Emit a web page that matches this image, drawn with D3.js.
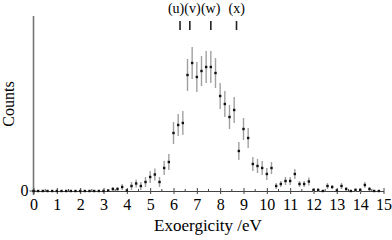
<!DOCTYPE html>
<html>
<head>
<meta charset="utf-8">
<script src="https://cdn.jsdelivr.net/npm/d3@7"></script>
<style>
	body { margin: 0; background: #fff; }
	text { font-family: "Liberation Serif", "DejaVu Serif", serif; fill: #000; }
</style>
</head>
<body>
<svg width="392" height="240"></svg>
<script>
var energy = [0, 0.2, 0.4, 0.6, 0.8, 1.0, 1.2, 1.4, 1.6, 1.8, 2.0, 2.2, 2.4, 2.6, 2.8,
	3.0, 3.2, 3.4, 3.6, 3.8, 4.0, 4.2, 4.4, 4.6, 4.8, 5.0, 5.2, 5.4, 5.6, 5.8,
	6.0, 6.2, 6.4, 6.6, 6.8, 7.0, 7.2, 7.4, 7.6, 7.8, 8.0, 8.2, 8.4, 8.6, 8.8,
	9.0, 9.2, 9.4, 9.6, 9.8, 10.0, 10.2, 10.4, 10.6, 10.8, 11.0, 11.2, 11.4, 11.6, 11.8,
	12.0, 12.2, 12.4, 12.6, 12.8, 13.0, 13.2, 13.4, 13.6, 13.8, 14.0, 14.2, 14.4, 14.6, 14.8];
var counts = [0, 0, 0, 0, 0, 0, 0, 0, 0, 0, 0, 0, 0, 0, 0,
	0, 0.5, 2, 2, 4, 0.5, 5, 7.5, 5, 9, 14, 16.5, 9, 23, 29,
	58, 66, 68, 116, 128, 114, 120, 124, 124, 118, 95, 87, 74, 81, 40,
	62, 53, 27, 25, 23, 17, 23, 5, 7, 10, 10, 17, 7, 7, 9.5,
	1, 1, 0, 5, 4, 0.5, 5, 2, 0, 1, 1, 6, 2, 0, 0];
var errors = [0, 0, 0, 0, 0, 0, 0, 0, 0, 0, 0, 0, 0, 0, 0,
	1, 1, 2, 2, 3, 1, 4, 4, 4, 5, 6, 6, 5, 7, 8,
	11, 11, 12, 16, 16, 15, 15, 16, 16, 15, 13, 13, 12, 13, 9,
	11, 10, 7, 7, 7, 6, 6, 3, 3, 4, 4, 5, 3, 3, 4,
	2, 2, 1, 3, 2, 2, 3, 2, 1, 2, 2, 3, 2, 1, 1];

var markerLabels = ["(u)", "(v)", "(w)", "(x)"];
var markerEnergy = [6.28, 6.7, 7.6, 8.7];
var markerLabelEnergy = [6.11, 6.81, 7.59, 8.71];

var majorTicks = d3.range(0, 16);
var minorTicks = d3.range(0.5, 15, 1);

var svg = d3.select("svg");

var x = d3.scaleLinear().domain([0, 15]).range([33.5, 383.5]);
var y = d3.scaleLinear().domain([0, 175]).range([191, 16]);

// y axis line
svg.append("line")
	.attr("x1", x(0)).attr("x2", x(0))
	.attr("y1", y(175)).attr("y2", 195)
	.attr("stroke", "#777").attr("stroke-width", 1.6);

// x axis
var xAxis = svg.append("g")
	.attr("transform", "translate(0," + y(0) + ")")
	.call(d3.axisBottom(x).tickValues(majorTicks).tickSize(3).tickSizeOuter(0).tickFormat(d3.format("d")));
xAxis.select(".domain").attr("stroke", "#444");
xAxis.selectAll(".tick line").attr("y1", -3).attr("stroke", "#444");
xAxis.selectAll(".tick text")
	.attr("y", 8)
	.style("font-size", "16px")
	.style("font-family", "'Liberation Serif', serif")
	.attr("fill", "#000");

svg.append("g").selectAll("line")
	.data(minorTicks)
	.enter().append("line")
	.attr("x1", function (d) { return x(d); })
	.attr("x2", function (d) { return x(d); })
	.attr("y1", y(0) - 2).attr("y2", y(0))
	.attr("stroke", "#444");

// y "0" label and tick
svg.append("line")
	.attr("x1", x(0) - 4).attr("x2", x(0) + 3)
	.attr("y1", y(0)).attr("y2", y(0))
	.attr("stroke", "#444");
svg.append("text")
	.attr("x", x(0) - 5).attr("y", y(0) + 5)
	.attr("text-anchor", "end")
	.style("font-size", "16px")
	.text("0");

// error bars
svg.append("g").selectAll("line")
	.data(energy)
	.enter().append("line")
	.attr("x1", function (d) { return x(d); })
	.attr("x2", function (d) { return x(d); })
	.attr("y1", function (d, i) { return y(counts[i] + errors[i]); })
	.attr("y2", function (d, i) { return y(counts[i] - errors[i]); })
	.attr("stroke", "#a0a0a0")
	.attr("stroke-width", 1.4);

// points
svg.append("g").selectAll("rect")
	.data(energy)
	.enter().append("rect")
	.attr("x", function (d) { return x(d) - 1.2; })
	.attr("y", function (d, i) { return y(counts[i]) - 1.2; })
	.attr("width", 2.4)
	.attr("height", 2.4)
	.attr("fill", "#111");

// transition markers
svg.append("g").selectAll("line")
	.data(markerEnergy)
	.enter().append("line")
	.attr("x1", function (d) { return x(d); })
	.attr("x2", function (d) { return x(d); })
	.attr("y1", 21).attr("y2", 30)
	.attr("stroke", "#222").attr("stroke-width", 1.6);

svg.append("g").selectAll("text")
	.data(markerLabels)
	.enter().append("text")
	.attr("x", function (d, i) { return x(markerLabelEnergy[i]); })
	.attr("y", 13)
	.attr("text-anchor", "middle")
	.style("font-size", "14px")
	.text(function (d) { return d; });

// axis titles
svg.append("text")
	.attr("x", 208).attr("y", 231)
	.attr("text-anchor", "middle")
	.style("font-size", "17px")
	.text("Exoergicity /eV");

svg.append("text")
	.attr("transform", "translate(14,104) rotate(-90)")
	.attr("text-anchor", "middle")
	.style("font-size", "16px")
	.text("Counts");
</script>
</body>
</html>
